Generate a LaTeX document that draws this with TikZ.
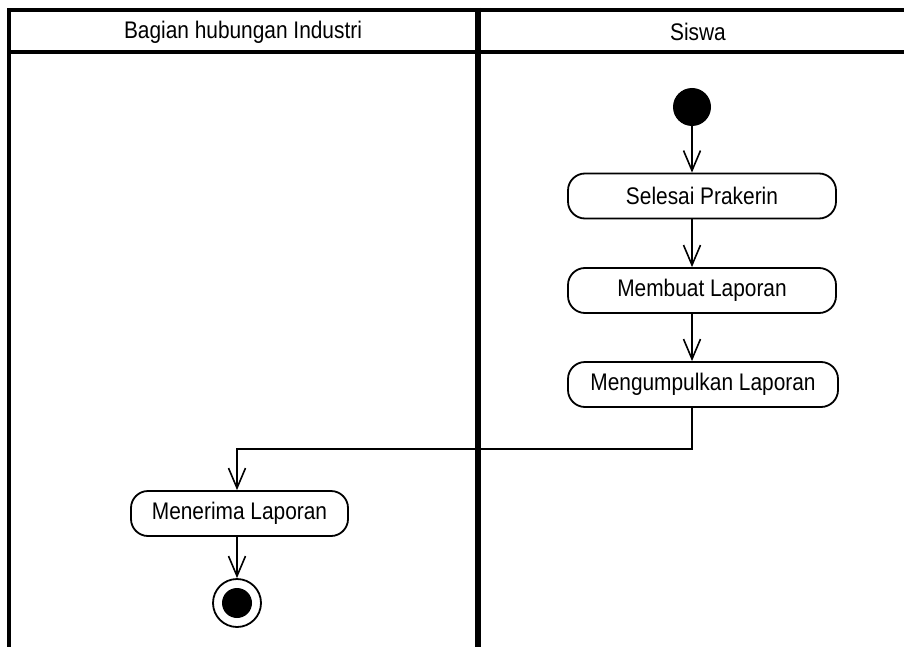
\documentclass[tikz,border=0pt]{standalone}
\usepackage{fontspec}
\setmainfont{Liberation Sans}[FakeStretch=0.87]
\usetikzlibrary{arrows.meta}
\begin{document}
\begin{tikzpicture}[x=1pt,y=-1pt,
  lane/.style={line width=3.5pt},
  act/.style={draw,line width=1.8pt,rounded corners=17pt,minimum height=45pt,inner sep=0pt,
    font=\fontsize{24pt}{28pt}\selectfont},
  hdr/.style={font=\fontsize{24pt}{28pt}\selectfont,inner sep=0pt},
  arr/.style={line width=1.6pt,-{Straight Barb[length=20pt,width=17pt]}}]
\useasboundingbox (0,0) rectangle (904,647);
% swimlanes
\draw[lane] (9,647) -- (9,10) -- (920,10);
\draw[lane] (9,52) -- (920,52);
\draw[line width=6pt] (478,8) -- (478,647);
\node[hdr] (h1) at (243,32) {Bagian hubungan Industri};
\node[hdr] (h2) at (698,32) {Siswa};
% nodes
\node[circle,fill,minimum size=38pt,inner sep=0pt] (start) at (692,107) {};
\node[act,minimum width=268pt] (sel) at (702,196) {Selesai Prakerin};
\node[act,minimum width=268pt] (mem) at (702,290.5) {Membuat Laporan};
\node[act,minimum width=270pt] (kum) at (703,384.5) {Mengumpulkan Laporan};
\node[act,minimum width=217pt] (ter) at (239.5,513.5) {Menerima Laporan};
\node[circle,draw,line width=1.8pt,minimum size=48pt,inner sep=0pt] (fin) at (237,603) {};
\fill (fin.center) circle[radius=15pt];
% connectors
\draw[arr] (start) -- (start |- sel.north);
\draw[arr] (sel.south -| start) -- (mem.north -| start);
\draw[arr] (mem.south -| start) -- (kum.north -| start);
\coordinate (turn) at (692,449);
\draw[arr] (kum.south -| start) -- (turn) -| (ter.north -| fin);
\draw[arr] (ter.south -| fin) -- (fin);
\end{tikzpicture}
\end{document}
